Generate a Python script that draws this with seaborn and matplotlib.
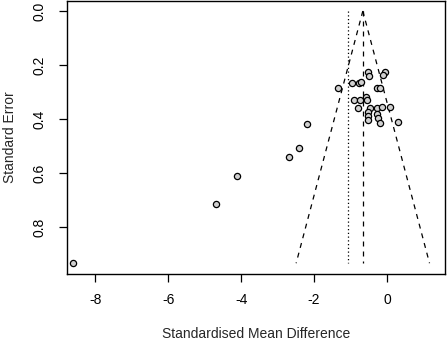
import numpy as np
import pandas as pd
import seaborn as sns
import matplotlib.pyplot as plt

# effect sizes (SMD) and standard errors
smd = [-8.61, -4.69, -4.12, -2.70, -2.40, -2.19, -1.33, -0.95, -0.76, -0.70,
       -0.52, -0.49, -0.06, -0.12, -0.27, -0.18, -0.91, -0.73, -0.57, -0.55,
       -0.78, -0.46, -0.52, -0.52, -0.52, -0.27, -0.27, -0.25, -0.20, -0.13,
       0.09, 0.30]
se = [0.934, 0.716, 0.610, 0.540, 0.509, 0.420, 0.286, 0.268, 0.268, 0.262,
      0.226, 0.240, 0.225, 0.237, 0.286, 0.284, 0.330, 0.330, 0.317, 0.330,
      0.358, 0.358, 0.373, 0.388, 0.404, 0.360, 0.380, 0.397, 0.416, 0.354,
      0.354, 0.410]
pooled = -0.66      # fixed effect estimate (dashed)
random_est = -1.07  # dotted line
xticks = [-8, -6, -4, -2, 0]
yticks = [0.0, 0.2, 0.4, 0.6, 0.8]

df = pd.DataFrame({"smd": smd, "se": se})

sns.set_style("white")
plt.rcParams["font.family"] = ["Liberation Sans", "DejaVu Sans"]

fig = plt.figure(figsize=(4.47, 3.42), dpi=100)
ax = fig.add_axes([0.1499, 0.1988, 0.846, 0.7982])

# funnel
se_max = max(se)
se_line = np.array([0, se_max])
ax.plot(pooled - 1.96 * se_line, se_line, color="black", lw=0.9, ls=(0, (4, 4)))
ax.plot(pooled + 1.96 * se_line, se_line, color="black", lw=0.9, ls=(0, (4, 4)))
ax.plot([pooled, pooled], se_line, color="black", lw=0.9, ls=(0, (4, 4)))
ax.plot([random_est, random_est], se_line, color="black", lw=0.9, ls=(0, (1, 2)))

sns.scatterplot(data=df, x="smd", y="se", ax=ax, s=20, color="#d0d0d0",
                edgecolor="black", linewidth=0.9, zorder=3)

ax.set_xlim(-8.78, 1.60)
ax.set_ylim(0.974, -0.037)
ax.set_xticks(xticks)
ax.set_xticklabels([str(t) for t in xticks])
ax.set_yticks(yticks)
ax.set_yticklabels([f"{t:.1f}" for t in yticks], rotation=90, va="center")
ax.tick_params(axis="both", direction="out", length=6, width=0.9,
               labelsize=10, colors="black", left=True, bottom=True)
ax.tick_params(axis="x", pad=8)
ax.tick_params(axis="y", pad=9)
for s in ax.spines.values():
    s.set_color("black")
    s.set_linewidth(1)

ax.set_xlabel("Standardised Mean Difference", fontsize=10, labelpad=14)
ax.set_ylabel("Standard Error", fontsize=10, labelpad=11)

fig.savefig("out.png", dpi=100)
